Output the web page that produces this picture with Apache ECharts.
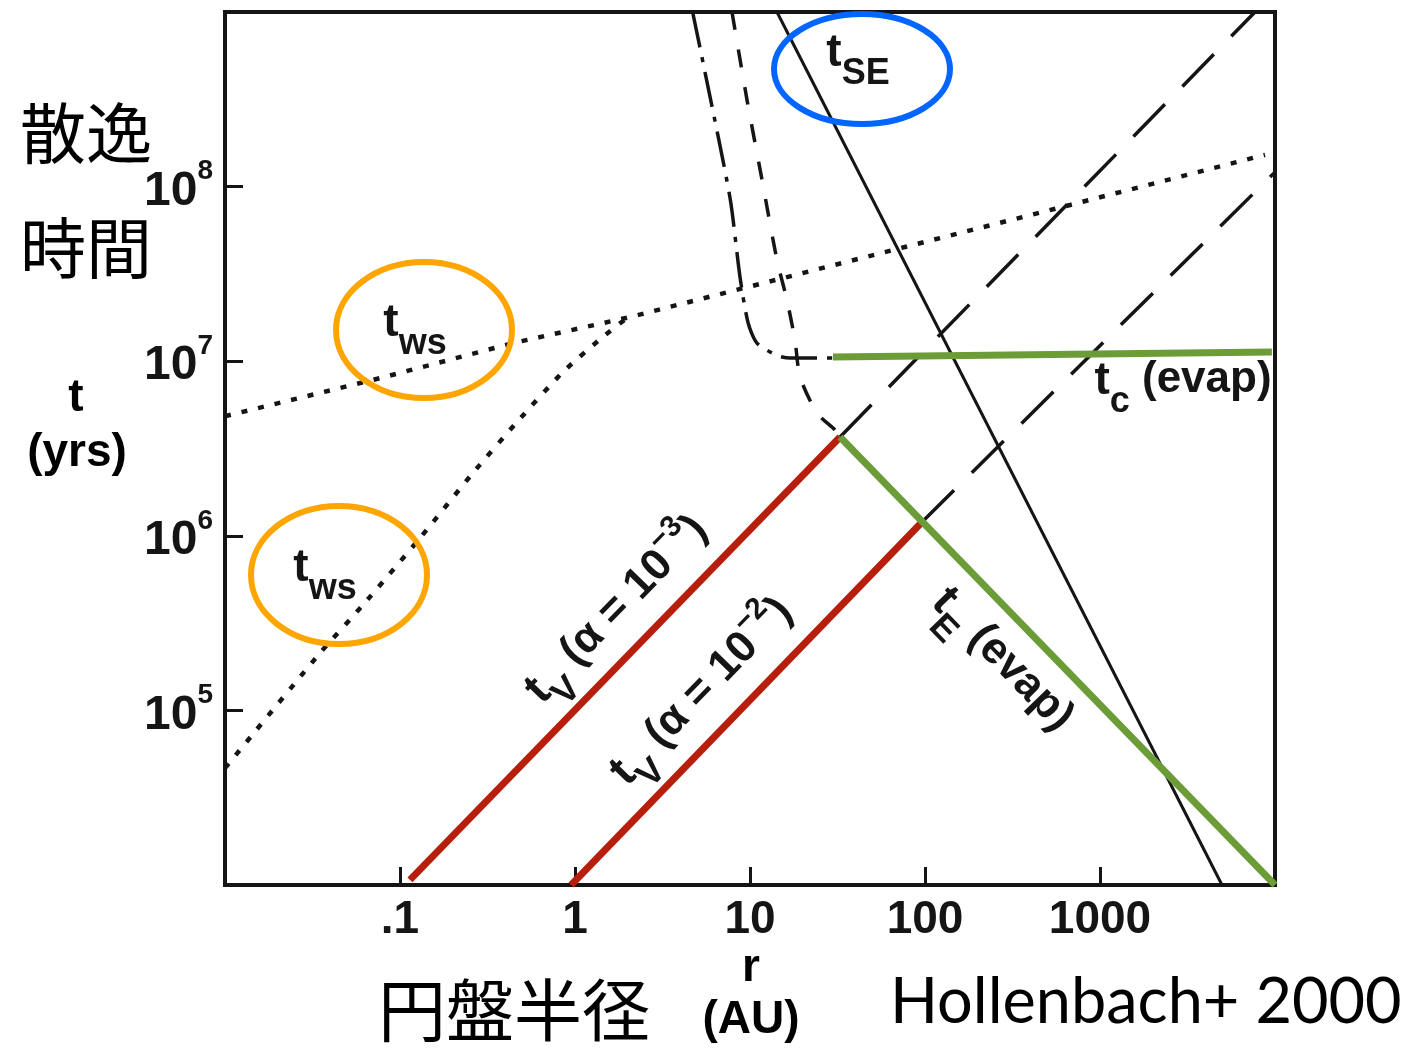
<!DOCTYPE html>
<html>
<head>
<meta charset="utf-8">
<script src="https://cdn.jsdelivr.net/npm/echarts@6/dist/echarts.min.js"></script>
<style>
html, body { margin: 0; padding: 0; background: #fff; }
#chart { width: 1408px; height: 1048px; }
</style>
</head>
<body>
<div id="chart"></div>
<script>
// [r (AU), t (yrs)]
var twsOuter = [[0.01, 4.84e6], [0.077, 8.0e6], [0.443, 1.27e7], [2.06, 1.79e7], [675, 7.85e7], [8770, 1.52e8]];
var twsInner = [[0.01, 4.67e4], [0.0349, 2.13e5], [0.0615, 4.02e5], [0.130, 9.7e5], [0.261, 2.29e6],
                [0.467, 4.49e6], [0.853, 8.67e6], [1.445, 1.38e7], [2.0, 1.78e7]];
var tcFull = [[4.70, 1e9], [5.53, 4.53e8], [7.69, 8.61e7], [8.77, 3.03e7], [9.75, 1.66e7],
              [10.96, 1.27e7], [14.26, 1.08e7], [16.94, 1.042e7], [29.8, 1.042e7]];
var teFull = [[7.89, 1e9], [9.62, 3.13e8], [11.72, 1.09e8], [14.26, 3.8e7], [16.26, 2.24e7],
              [18.07, 1.32e7], [19.32, 8.13e6], [24.15, 5.05e6], [30.6, 4.04e6], [32.7, 3.68e6]];
var tSE = [[14.26, 1e9], [4980, 1e4]];
var tv3 = [[0.114, 1.07e4], [32.7, 3.68e6]];
var tv3Ext = [[32.7, 3.68e6], [7690, 1e9]];
var tv2 = [[0.95, 1e4], [96.2, 1.2e6]];
var tv2Ext = [[96.2, 1.2e6], [1e4, 1.21e8]];
var teEvap = [[32.7, 3.68e6], [1e4, 1e4]];
var tcEvap = [[29.8, 1.057e7], [9600, 1.13e7]];

var xTickLabels = { '-1': '.1', '0': '1', '1': '10', '2': '100', '3': '1000' };
var yTickExps = [5, 6, 7, 8];

var F = "'Liberation Sans', Arial, sans-serif";
var INK = '#151515';
var RED = '#b71f0c';
var GREEN = '#6b9c37';

function lineSeries(data, color, width, type, smooth) {
    return {
        type: 'line',
        data: data,
        showSymbol: false,
        silent: true,
        smooth: smooth || false,
        lineStyle: { color: color, width: width, type: type || 'solid', cap: 'butt' }
    };
}

var rich = {
    t: { fontSize: 46, fontWeight: 'bold', fontFamily: F, fill: INK, verticalAlign: 'top', padding: [10, 0, 0, 0] },
    s: { fontSize: 36, fontWeight: 'bold', fontFamily: F, fill: INK, verticalAlign: 'bottom', padding: [36, 0, 0, 0] },
    n: { fontSize: 44, fontWeight: 'bold', fontFamily: F, fill: INK, verticalAlign: 'top', padding: [10, 0, 0, 0] },
    p: { fontSize: 30, fontWeight: 'bold', fontFamily: F, fill: INK, verticalAlign: 'top' }
};

function label(text, x, y, rot) {
    return {
        type: 'text', x: x, y: y, rotation: rot || 0, silent: true, z: 20,
        style: { text: text, rich: rich, align: 'center', verticalAlign: 'middle', fill: INK }
    };
}
function plain(text, x, y, font, align) {
    return {
        type: 'text', x: x, y: y, silent: true, z: 20,
        style: { text: text, font: font, fill: '#000', align: align || 'center', verticalAlign: 'middle' }
    };
}
function ring(cx, cy, rx, ry, color) {
    return {
        type: 'ellipse', silent: true, z: 15,
        shape: { cx: cx, cy: cy, rx: rx, ry: ry },
        style: { fill: 'none', stroke: color, lineWidth: 6 }
    };
}

var chart = echarts.init(document.getElementById('chart'));
chart.setOption({
    animation: false,
    backgroundColor: '#fff',
    grid: { left: 225, top: 12, width: 1050, height: 873, show: true, borderColor: INK, borderWidth: 4, containLabel: false },
    xAxis: {
        type: 'log', logBase: 10, min: 0.01, max: 10000, splitNumber: 6,
        axisLine: { lineStyle: { color: INK, width: 4 } },
        axisTick: { inside: true, length: 18, lineStyle: { color: INK, width: 3 } },
        splitLine: { show: false },
        minorTick: { show: false },
        axisLabel: {
            margin: 12, color: INK, fontSize: 46, fontWeight: 'bold', fontFamily: F,
            formatter: function (v) {
                var e = Math.round(Math.log10(v));
                return xTickLabels[e] || '';
            }
        }
    },
    yAxis: {
        type: 'log', logBase: 10, min: 1e4, max: 1e9, splitNumber: 5,
        axisLine: { lineStyle: { color: INK, width: 4 } },
        axisTick: { inside: true, length: 18, lineStyle: { color: INK, width: 3 } },
        splitLine: { show: false },
        axisLabel: {
            margin: 12, color: INK, fontFamily: F,
            formatter: function (v) {
                var e = Math.round(Math.log10(v));
                return yTickExps.indexOf(e) >= 0 ? '{b|10}{s|' + e + '}' : '';
            },
            rich: {
                b: { fontSize: 48, fontWeight: 'bold', fontFamily: F, color: INK, verticalAlign: 'bottom', padding: [10, 0, 0, 0] },
                s: { fontSize: 28, fontWeight: 'bold', fontFamily: F, color: INK, verticalAlign: 'top' }
            }
        }
    },
    series: [
        lineSeries(twsOuter, INK, 4.5, [6, 11]),
        lineSeries(twsInner, INK, 4.5, [6, 11], 0.2),
        lineSeries(tcFull, INK, 3.5, [36, 10, 5, 10], 0.25),
        lineSeries(teFull, INK, 3.5, [18, 20], 0.25),
        lineSeries(tSE, INK, 3),
        lineSeries(tv3Ext, INK, 3.5, [45, 25]),
        lineSeries(tv2Ext, INK, 3.5, [45, 25]),
        lineSeries(tv3, RED, 7),
        lineSeries(tv2, RED, 7),
        lineSeries(teEvap, GREEN, 7),
        lineSeries(tcEvap, GREEN, 7)
    ],
    graphic: [
        ring(424, 330, 88, 68, '#ffa500'),
        ring(339, 575, 88, 69, '#ffa500'),
        ring(862, 69, 88, 55, '#0066ff'),
        label('{t|t}{s|ws}', 415, 326),
        label('{t|t}{s|ws}', 325, 571),
        label('{t|t}{s|SE}', 858, 56),
        label('{t|t}{s|c}{n| (evap)}', 1183, 384),
        label('{t|t}{s|E}{n| (evap)}', 1000, 662, -0.80),
        label('{t|t}{s|V}{n| (\u03b1 = 10}{p|\u22123}{n|)}', 619, 612, 0.80),
        label('{t|t}{s|V}{n| (\u03b1 = 10}{p|\u22122}{n|)}', 704, 694, 0.80),
        plain('t', 76, 398, "bold 46px " + F),
        plain('(yrs)', 77, 453, "bold 46px " + F),
        plain('r', 751, 968, "bold 46px " + F),
        plain('(AU)', 751, 1020, "bold 46px " + F),
        plain('散逸', 20, 133, "66px 'Noto Sans CJK JP'", 'left'),
        plain('時間', 20, 248, "66px 'Noto Sans CJK JP'", 'left'),
        plain('円盤半径', 378, 1010, "68px 'Noto Sans CJK JP'", 'left'),
        plain('Hollenbach+ 2000', 890, 1003, "63px Lato, 'Open Sans', sans-serif", 'left')
    ]
});
</script>
</body>
</html>
